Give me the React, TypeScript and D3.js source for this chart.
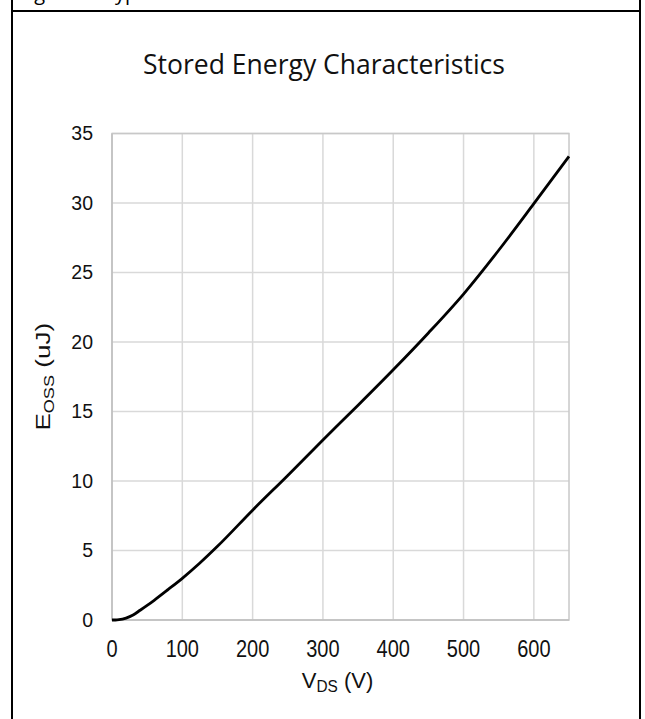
import React from "react";
import * as d3 from "d3";

const vds = [0, 5, 10, 20, 30, 40, 50, 60, 80, 100, 125, 150, 200, 250, 300, 350, 400, 450, 500, 550, 600, 650];
const eoss = [0, 0, 0.02, 0.14, 0.36, 0.7, 1.05, 1.42, 2.2, 3.0, 4.1, 5.3, 7.9, 10.4, 12.95, 15.45, 18.0, 20.65, 23.45, 26.6, 29.95, 33.35];
const xTicks = [0, 100, 200, 300, 400, 500, 600];
const yTicks = [0, 5, 10, 15, 20, 25, 30, 35];

const W = 645;
const H = 719;
const L = 112, R = 569, T = 133.5, B = 620;

export default function App() {
  const x = d3.scaleLinear().domain([0, 650]).range([L, R]);
  const y = d3.scaleLinear().domain([0, 35]).range([B, T]);
  const pts = vds.map((v, i) => [v, eoss[i]] as [number, number]);
  const line = d3
    .line<[number, number]>()
    .x((d) => x(d[0]))
    .y((d) => y(d[1]))
    .curve(d3.curveMonotoneX);
  const tickFont = "'Liberation Sans', Arial, sans-serif";
  return (
    <svg
      width={W}
      height={H}
      style={{ position: "absolute", left: 0, top: 0, background: "#fff" }}
    >
      <rect x={0} y={0} width={W} height={H} fill="#fff" />
      {/* cut-off caption at top */}
      <text x={19} y={0} fontFamily="'Open Sans', sans-serif" fontSize={20} fill="#000">
        Figure 7. Typical Eoss
      </text>
      {/* frame */}
      <line x1={12} x2={12} y1={0} y2={H} stroke="#000" strokeWidth={2} />
      <line x1={640} x2={640} y1={0} y2={H} stroke="#000" strokeWidth={2} />
      <line x1={12} x2={640} y1={11} y2={11} stroke="#000" strokeWidth={2} />

      <text
        x={324}
        y={74}
        textAnchor="middle"
        fontFamily="'Open Sans', sans-serif"
        fontSize={26.5}
        fill="#111"
      >
        Stored Energy Characteristics
      </text>

      {/* grid */}
      {xTicks.slice(1).map((t) => (
        <line key={"gx" + t} x1={x(t)} x2={x(t)} y1={T} y2={B} stroke="#d9d9d9" strokeWidth={1.5} />
      ))}
      {yTicks.slice(1).map((t) => (
        <line key={"gy" + t} x1={L} x2={R} y1={y(t)} y2={y(t)} stroke="#d9d9d9" strokeWidth={1.5} />
      ))}
      <rect x={L} y={T} width={R - L} height={B - T} fill="none" stroke="#c8c8c8" strokeWidth={1.5} />
      <line x1={L} x2={L} y1={T} y2={B} stroke="#bfbfbf" strokeWidth={1.5} />
      <line x1={L} x2={R} y1={B} y2={B} stroke="#bfbfbf" strokeWidth={1.5} />

      {/* curve */}
      <path d={line(pts) || ""} fill="none" stroke="#000" strokeWidth={2.8} strokeLinejoin="round" />

      {/* y ticks */}
      {yTicks.map((t) => (
        <text
          key={"yt" + t}
          x={93}
          y={y(t)}
          dy="0.35em"
          textAnchor="end"
          fontFamily={tickFont}
          fontSize={19.5}
          fill="#111"
        >
          {t}
        </text>
      ))}
      {/* x ticks */}
      {xTicks.map((t) => (
        <text
          key={"xt" + t}
          transform={`translate(${x(t)},657) scale(1,1.15)`}
          textAnchor="middle"
          fontFamily={tickFont}
          fontSize={20}
          fill="#111"
        >
          {t}
        </text>
      ))}

      {/* x axis label */}
      <text
        transform={`translate(${(L + R) / 2 - 3},688) scale(1.1,1.12)`}
        textAnchor="middle"
        fontFamily={tickFont}
        fontSize={20}
        fill="#111"
      >
        V<tspan fontSize={14} dy={4}>DS</tspan>
        <tspan dy={-4}> (V)</tspan>
      </text>

      {/* y axis label */}
      <text
        transform={`translate(50,${(T + B) / 2}) rotate(-90) scale(1.3,1)`}
        textAnchor="middle"
        fontFamily={tickFont}
        fontSize={20}
        fill="#111"
      >
        E<tspan fontSize={14} dy={4}>OSS</tspan>
        <tspan dy={-4}> (uJ)</tspan>
      </text>
    </svg>
  );
}
